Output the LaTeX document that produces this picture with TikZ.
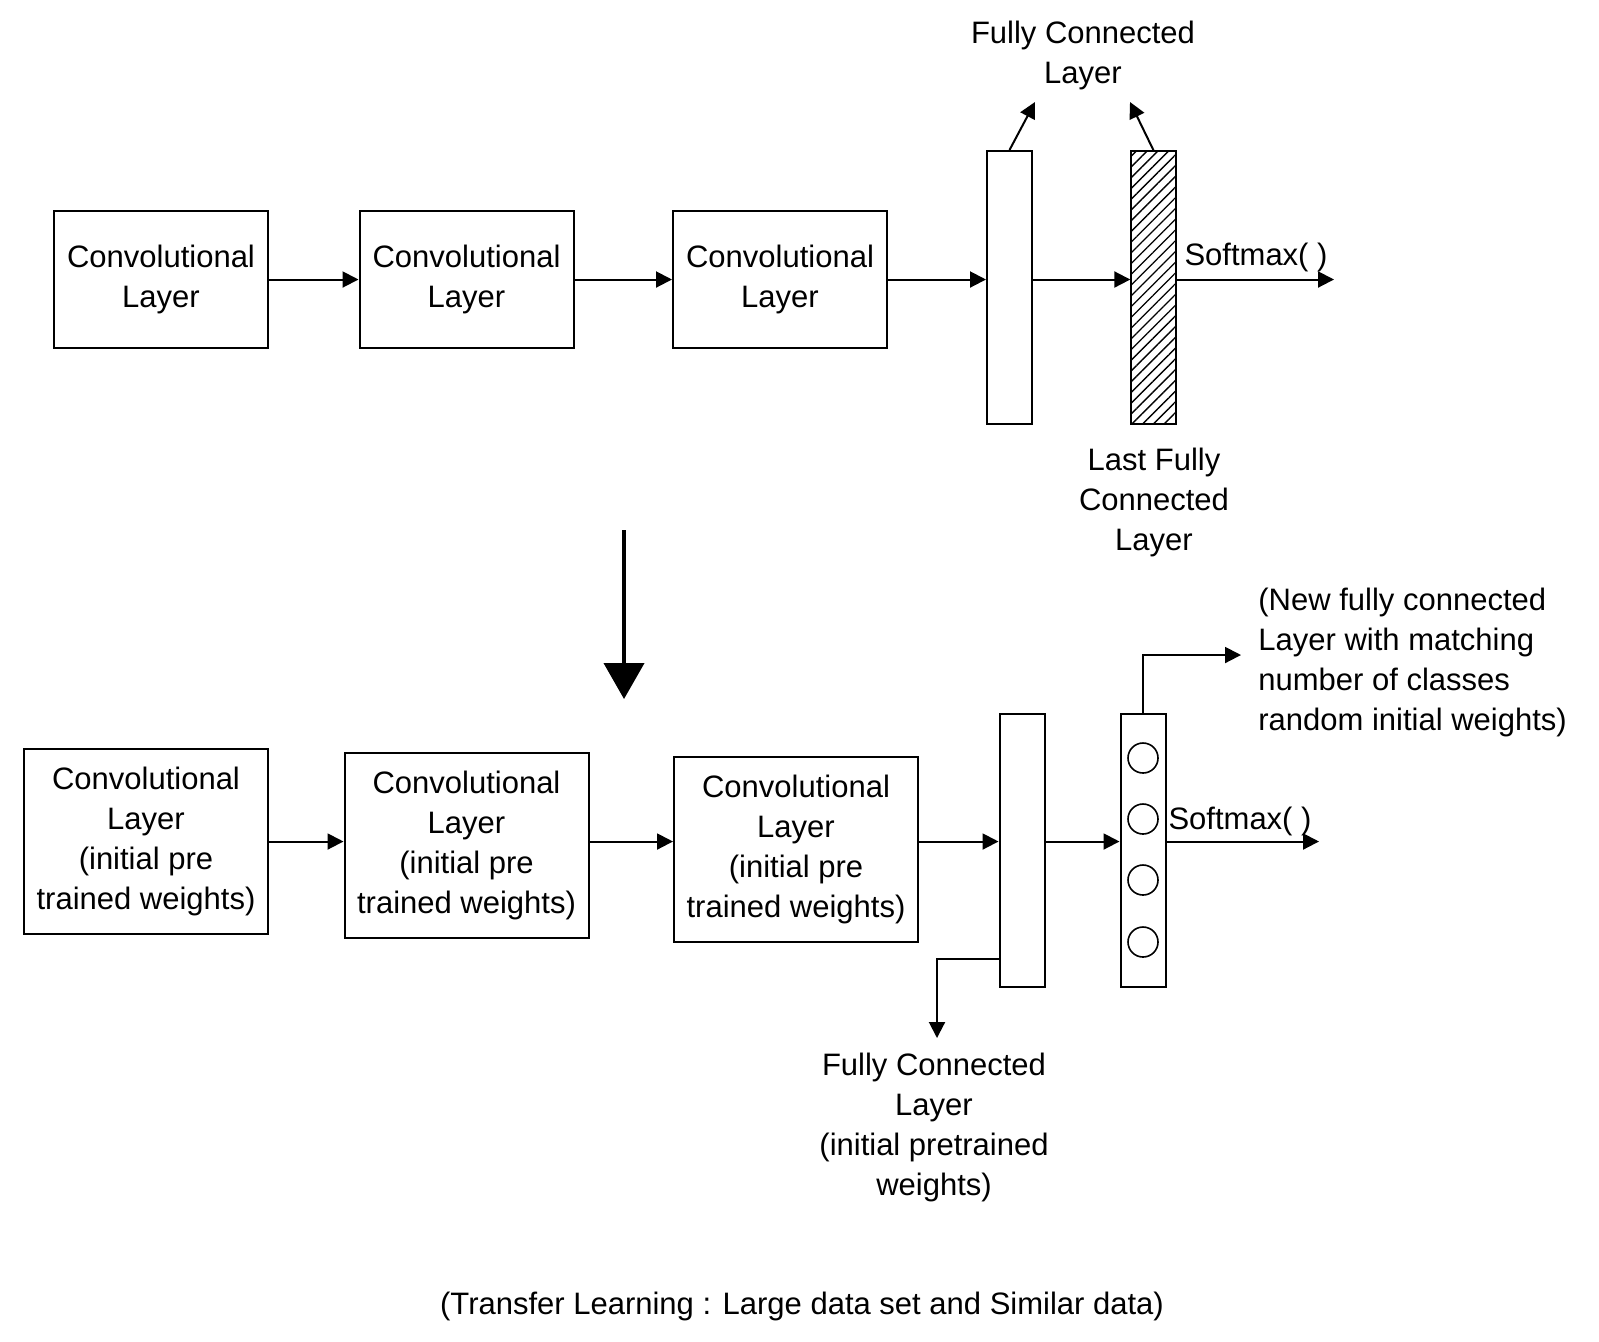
\documentclass[tikz,border=0pt]{standalone}
\usepackage{fontspec}
\setmainfont{Liberation Sans}
\usetikzlibrary{arrows.meta,patterns.meta}
\begin{document}
\begin{tikzpicture}[x=0.5pt,y=-0.5pt,
  font=\fontsize{15.5}{20}\selectfont,
  box/.style={draw,line width=1pt,align=center,inner sep=0pt},
  conv/.style={box,minimum width=107pt,minimum height=68.5pt},
  convb/.style={box,minimum width=122pt,minimum height=92.5pt},
  fc/.style={draw,line width=1pt,minimum width=22.5pt,minimum height=136.5pt,inner sep=0pt},
  neuron/.style={draw,circle,line width=0.8pt,minimum size=15pt,inner sep=0pt},
  arr/.style={line width=1pt,-{Triangle[length=8pt,width=8pt]}},
  bigarr/.style={line width=2pt,-{Triangle[length=18pt,width=20pt]}},
  lbl/.style={align=center,inner sep=0pt}
]
\useasboundingbox (0,0) rectangle (1599,1341);
% top row
\node[conv] (c1) at (161,279.5) {Convolutional\\Layer};
\node[conv] (c2) at (466.5,279.5) {Convolutional\\Layer};
\node[conv] (c3) at (780,279.5) {Convolutional\\Layer};
\node[fc] (f1) at (1009.5,287.5) {};
\node[fc,pattern={Lines[angle=45,distance=3.8pt,line width=0.7pt]}] (f2) at (1153.5,287.5) {};
\draw[arr] (c1.east) -- (c2.west);
\draw[arr] (c2.east) -- (c3.west);
\draw[arr] (c3.east) -- (c3.east -| f1.west);
\draw[arr] (f1.east |- c3.east) -- (c3.east -| f2.west);
\coordinate (sm1) at (1334,279.5);
\draw[arr] (f2.east |- c3.east) -- (sm1);
\node[lbl] (smt1) at (1256,257) {Softmax( )};
\coordinate (u1) at (1035,102);
\coordinate (u2) at (1130,102);
\draw[arr] (f1.north) -- (u1);
\draw[arr] (f2.north) -- (u2);
\node[lbl] (fcl) at (1083,55) {Fully Connected\\Layer};
\node[lbl] (lfc) at (1154,502) {Last Fully\\Connected\\Layer};
% transition arrow
\coordinate (ba1) at (624,530);
\coordinate (ba2) at (624,699);
\draw[bigarr] (ba1) -- (ba2);
% bottom row
\node[convb] (b1) at (146,841.5) {Convolutional\\Layer\\(initial pre\\trained weights)};
\node[convb] (b2) at (466.5,845.5) {Convolutional\\Layer\\(initial pre\\trained weights)};
\node[convb] (b3) at (796,849.5) {Convolutional\\Layer\\(initial pre\\trained weights)};
\node[fc] (f3) at (1022,850.5) {};
\node[fc] (f4) at (1143,850.5) {};
\node[neuron] (n1) at (1143,758) {};
\node[neuron] (n2) at (1143,819) {};
\node[neuron] (n3) at (1143,880) {};
\node[neuron] (n4) at (1143,942) {};
\draw[arr] (b1.east) -- (b1.east -| b2.west);
\draw[arr] (b2.east |- b1.east) -- (b1.east -| b3.west);
\draw[arr] (b3.east |- b1.east) -- (b1.east -| f3.west);
\draw[arr] (f3.east |- b1.east) -- (b1.east -| f4.west);
\coordinate (sm2) at (1319,841.5);
\draw[arr] (f4.east |- b1.east) -- (sm2);
\node[lbl] (smt2) at (1240,821) {Softmax( )};
\coordinate (nf) at (1241,655);
\draw[arr] (f4.north) |- (nf);
\node[lbl,align=left,anchor=west] (nfl) at (1258,662) {(New fully connected\\Layer with matching\\number of classes\\random initial weights)};
\coordinate (fcs) at (1000,959);
\coordinate (fcd) at (937,1038);
\draw[arr] (fcs) -| (fcd);
\node[lbl] (fcb) at (934,1127) {Fully Connected\\Layer\\(initial pretrained\\weights)};
\node[lbl] (cap) at (802,1306) {(Transfer Learning : Large data set and Similar data)};
\end{tikzpicture}
\end{document}
